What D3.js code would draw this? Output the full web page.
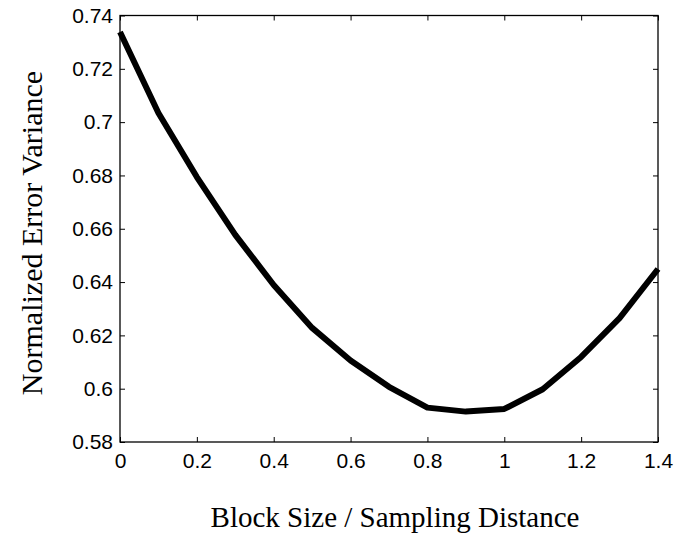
<!DOCTYPE html>
<html><head><meta charset="utf-8">
<script src="https://cdn.jsdelivr.net/npm/d3@7"></script>
<style>body{margin:0;background:#fff}svg{display:block}</style>
</head><body><svg id="c" width="677" height="542"></svg>
<script>
const xValues = [0, 0.1, 0.2, 0.3, 0.4, 0.5, 0.6, 0.7, 0.8, 0.9, 1.0, 1.1, 1.2, 1.3, 1.4];
const yValues = [0.7338, 0.7034, 0.6794, 0.6577, 0.6389, 0.6228, 0.6106, 0.6007, 0.5929, 0.5914, 0.5924, 0.5998, 0.6119, 0.6265, 0.6449];
const xTicks = [0, 0.2, 0.4, 0.6, 0.8, 1, 1.2, 1.4];
const yTicks = [0.58, 0.6, 0.62, 0.64, 0.66, 0.68, 0.7, 0.72, 0.74];
const xLabel = "Block Size / Sampling Distance";
const yLabel = "Normalized Error Variance";

const L = 120, R = 658, T = 15.5, B = 442;
const svg = d3.select("#c");
const x = d3.scaleLinear().domain([0, 1.4]).range([L, R]);
const y = d3.scaleLinear().domain([0.58, 0.74]).range([B, T]);
const fmt = d => String(+d.toFixed(2));
const tickFont = "Liberation Sans, Arial, sans-serif";

function style(g, showText) {
  g.select(".domain").remove();
  g.selectAll(".tick line").attr("stroke", "#000");
  g.selectAll(".tick text").attr("fill", "#000").style("font-family", tickFont).style("font-size", "21px");
  if (!showText) g.selectAll(".tick text").remove();
}

svg.append("g").attr("transform", `translate(0,${B})`)
  .call(d3.axisBottom(x).tickValues(xTicks).tickFormat(fmt).tickSize(-5).tickPadding(11))
  .call(g => style(g, true));
svg.append("g").attr("transform", `translate(0,${T})`)
  .call(d3.axisTop(x).tickValues(xTicks).tickSize(-5))
  .call(g => style(g, false));
svg.append("g").attr("transform", `translate(${L},0)`)
  .call(d3.axisLeft(y).tickValues(yTicks).tickFormat(fmt).tickSize(-5).tickPadding(7))
  .call(g => style(g, true));
svg.append("g").attr("transform", `translate(${R},0)`)
  .call(d3.axisRight(y).tickValues(yTicks).tickSize(-5))
  .call(g => style(g, false));

svg.append("rect").attr("x", L).attr("y", T).attr("width", R - L).attr("height", B - T)
  .attr("fill", "none").attr("stroke", "#000").attr("stroke-width", 1.3);

const data = xValues.map((v, i) => [v, yValues[i]]);
svg.append("path").datum(data)
  .attr("fill", "none").attr("stroke", "#000").attr("stroke-width", 6)
  .attr("stroke-linejoin", "round")
  .attr("d", d3.line().x(d => x(d[0])).y(d => y(d[1])));

svg.append("text").attr("x", 395).attr("y", 527).attr("text-anchor", "middle")
  .style("font-family", "Liberation Serif, Times New Roman, serif").style("font-size", "29px")
  .text(xLabel);
svg.append("text").attr("transform", "translate(42,233) rotate(-90)").attr("text-anchor", "middle")
  .style("font-family", "Liberation Serif, Times New Roman, serif").style("font-size", "30px")
  .text(yLabel);
</script></body></html>
